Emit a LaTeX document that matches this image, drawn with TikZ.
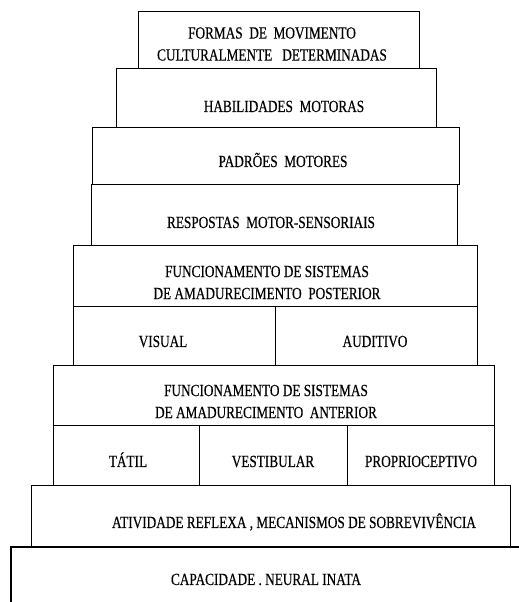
\documentclass[tikz,border=0pt]{standalone}
\usepackage{fontspec}
\setmainfont[FakeStretch=0.78,FakeBold=0.4]{Liberation Serif}
\begin{document}
\begin{tikzpicture}[x=1pt,y=1pt,
  box/.style={draw, line width=1.3pt, inner sep=0pt, anchor=south west},
  lbl/.style={inner sep=0pt, font=\fontsize{17}{22}\selectfont, anchor=base},
  lbl2/.style={inner sep=0pt, font=\fontsize{17}{22}\selectfont, align=center, anchor=center}]
\useasboundingbox (0,0) rectangle (519,602);
% boxes
\node[box, minimum width=281pt, minimum height=57pt] (b1) at (138,533) {};
\node[box, minimum width=320pt, minimum height=59pt] (b2) at (116,474) {};
\node[box, minimum width=367pt, minimum height=57pt] (b3) at (92,417) {};
\node[box, minimum width=366pt, minimum height=61pt] (b4) at (91,356) {};
\node[box, minimum width=404pt, minimum height=61pt] (b5) at (73,295) {};
\node[box, minimum width=202pt, minimum height=59pt] (b5a) at (73,236) {};
\node[box, minimum width=202pt, minimum height=59pt] (b5b) at (275,236) {};
\node[box, minimum width=441pt, minimum height=60pt] (b6) at (53,176) {};
\node[box, minimum width=146pt, minimum height=60pt] (b6a) at (53,116) {};
\node[box, minimum width=148pt, minimum height=60pt] (b6b) at (199,116) {};
\node[box, minimum width=147pt, minimum height=60pt] (b6c) at (347,116) {};
\node[box, minimum width=479pt, minimum height=61pt] (b7) at (31,55) {};
\coordinate (b8tl) at (11,55);
\coordinate (b8tr) at (519,55);
\coordinate (b8bl) at (11,0);
\draw[line width=1.3pt] (b8tr) -- (b8tl) -- (b8bl);
% labels
\node[lbl2] (t1) at (272,558) {FORMAS\ \ DE\ \ MOVIMENTO\\CULTURALMENTE\ \ \ DETERMINADAS};
\node[lbl] (t2) at (284,490) {HABILIDADES\ \ MOTORAS};
\node[lbl] (t3) at (283,435) {PADRÕES\ \ MOTORES};
\node[lbl] (t4) at (271,374) {RESPOSTAS\ \ MOTOR-SENSORIAIS};
\node[lbl2] (t5) at (267,319.5) {FUNCIONAMENTO DE SISTEMAS\\DE AMADURECIMENTO\ \ POSTERIOR};
\node[lbl] (t5a) at (163,255) {VISUAL};
\node[lbl] (t5b) at (375,255) {AUDITIVO};
\node[lbl2] (t6) at (266,200.5) {FUNCIONAMENTO DE SISTEMAS\\DE AMADURECIMENTO\ \ ANTERIOR};
\node[lbl] (t6a) at (128,135) {TÁTIL};
\node[lbl] (t6b) at (273,135) {VESTIBULAR};
\node[lbl] (t6c) at (421,135) {PROPRIOCEPTIVO};
\node[lbl] (t7) at (294,74) {ATIVIDADE REFLEXA , MECANISMOS DE SOBREVIVÊNCIA};
\node[lbl] (t8) at (266,17) {CAPACIDADE . NEURAL INATA};
\end{tikzpicture}
\end{document}
